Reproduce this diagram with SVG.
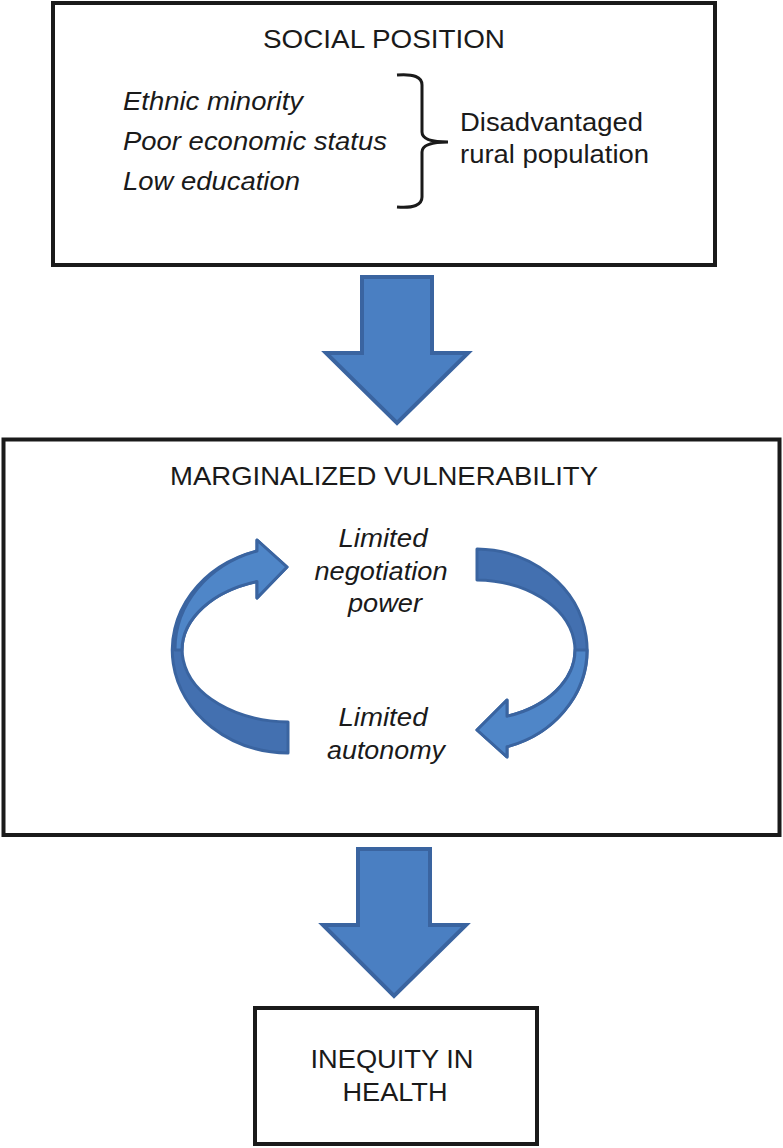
<svg xmlns="http://www.w3.org/2000/svg" width="783" height="1148" viewBox="0 0 783 1148">
<style>
.box{fill:#fff;stroke:#1a1a1a;stroke-width:4}
.t{font-family:"Liberation Sans",Arial,sans-serif;fill:#1a1a1a;font-size:25px}
.i{font-style:italic}
.m{text-anchor:middle}
.big{fill:#4a7fc2;stroke:#3a64a0;stroke-width:4;stroke-linejoin:miter}
.dk{fill:#4370b0;stroke:#3a64a0;stroke-width:3;stroke-linejoin:round}
.lt{fill:#4f86c8;stroke:#3a64a0;stroke-width:3;stroke-linejoin:round}
</style>
<rect width="783" height="1148" fill="#fff"/>
<g id="social-position">
<rect class="box" x="53" y="3" width="662" height="262"/>
<text class="t" x="263" y="48" textLength="242" lengthAdjust="spacingAndGlyphs">SOCIAL POSITION</text>
<text class="t i" x="123" y="110" textLength="180" lengthAdjust="spacingAndGlyphs">Ethnic minority</text>
<text class="t i" x="123" y="150" textLength="264" lengthAdjust="spacingAndGlyphs">Poor economic status</text>
<text class="t i" x="123" y="190" textLength="177" lengthAdjust="spacingAndGlyphs">Low education</text>
<path d="M397 75 Q422 73 422 85 L422 132 Q422 142 448 142 Q422 142 422 152 L422 197 Q422 209 397 207" fill="none" stroke="#1a1a1a" stroke-width="3"/>
<text class="t" x="460" y="131" textLength="183" lengthAdjust="spacingAndGlyphs">Disadvantaged</text>
<text class="t" x="460" y="163" textLength="189" lengthAdjust="spacingAndGlyphs">rural population</text>
</g>
<g id="connectors">
<path class="big" d="M362 277 L432 277 L432 353 L468 353 L397 423 L326 353 L362 353 Z"/>
<path class="big" d="M358 849 L430 849 L430 925 L466 925 L394 996 L323 925 L358 925 Z"/>
</g>
<g id="marginalized-vulnerability">
<rect class="box" x="3.5" y="439.5" width="776" height="395.5"/>
<text class="t" x="170" y="485" textLength="428" lengthAdjust="spacingAndGlyphs">MARGINALIZED VULNERABILITY</text>
<text class="t i m" x="383" y="547" textLength="89" lengthAdjust="spacingAndGlyphs">Limited</text>
<text class="t i m" x="381" y="580" textLength="133" lengthAdjust="spacingAndGlyphs">negotiation</text>
<text class="t i m" x="385" y="612" textLength="74" lengthAdjust="spacingAndGlyphs">power</text>
<text class="t i m" x="383" y="726" textLength="89" lengthAdjust="spacingAndGlyphs">Limited</text>
<text class="t i m" x="386" y="759" textLength="118" lengthAdjust="spacingAndGlyphs">autonomy</text>
<g id="cycle-left">
<path class="dk" d="M288 753 A117 103 0 0 1 257 551 L257 540 L287 567 L257 598 L257 581.5 A108 72 0 0 0 288 722 Z"/>
<path class="lt" d="M175 650 A117 103 0 0 1 257 551 L257 540 L287 567 L257 598 L257 581.5 A108 72 0 0 0 182 650 Z"/>
</g>
<g id="cycle-right">
<path class="dk" d="M477 549 A112 101 0 0 1 507 746.8 L507 757 L477 730 L507 700 L507 716.3 A100 70 0 0 0 477 580 Z"/>
<path class="lt" d="M587 650 A112 101 0 0 1 507 746.8 L507 757 L477 730 L507 700 L507 716.3 A100 70 0 0 0 575 650 Z"/>
</g>
</g>
<g id="inequity-in-health">
<rect class="box" x="255" y="1008" width="282" height="136"/>
<text class="t m" x="392" y="1068" textLength="163" lengthAdjust="spacingAndGlyphs">INEQUITY IN</text>
<text class="t m" x="395" y="1101" textLength="105" lengthAdjust="spacingAndGlyphs">HEALTH</text>
</g>
</svg>
